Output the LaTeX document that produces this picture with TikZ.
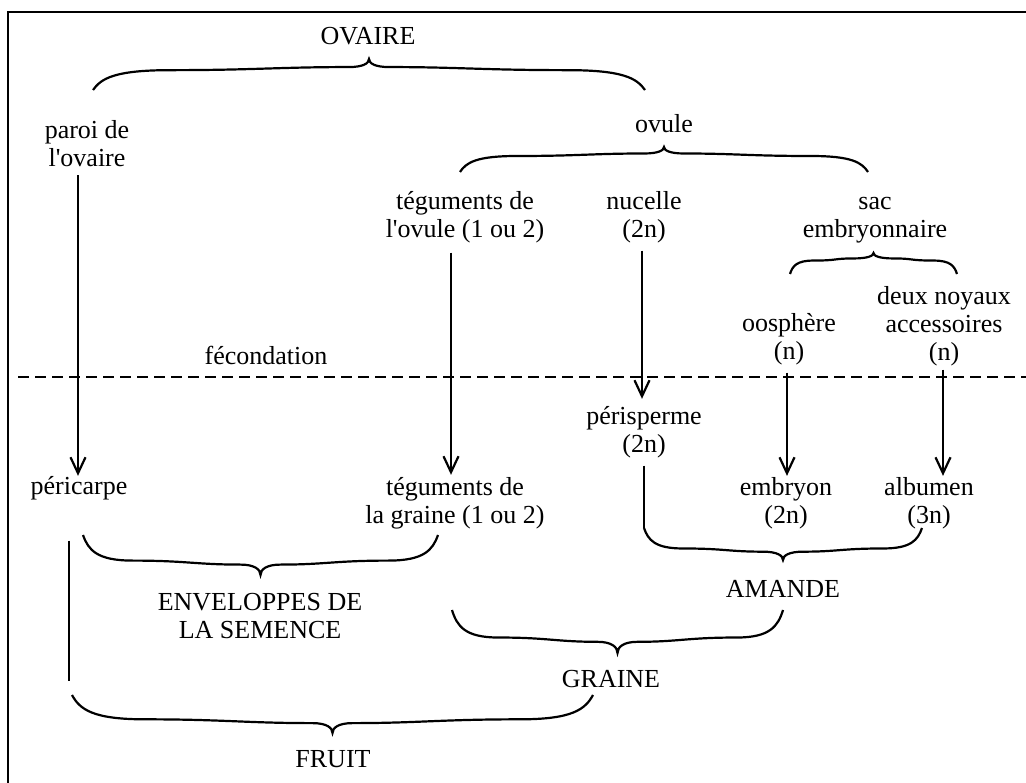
\documentclass[tikz,border=0pt]{standalone}
\usepackage{fontspec}
\setmainfont{Liberation Serif}
\usetikzlibrary{arrows.meta,calc}

\begin{document}
\begin{tikzpicture}[x=1pt,y=-1pt,line width=2.2pt,
    font=\fontsize{26}{28}\selectfont,
    lbl/.style={align=center,inner sep=0pt,anchor=base},
    arr/.style={-{Straight Barb[length=16pt,width=15pt]}},
    brc/.style={to path={let \p1=(\tikztostart), \p2=(\tikztotarget), \n1={(\x2-\x1)/2} in
      .. controls +(0.03*\n1,{0.38*(#1)}) and +(-0.2*\n1,0pt) .. (\x1+0.28*\n1,{\y1+0.64*(#1)})
      .. controls +(0.3*\n1,0pt) and +(-0.25*\n1,0pt) .. (\x1+\n1-20pt,{\y1+0.74*(#1)})
      .. controls +(14pt,0pt) and +(0pt,{-0.14*(#1)}) .. (\x1+\n1,{\y1+(#1)})
      .. controls +(0pt,{-0.14*(#1)}) and +(-14pt,0pt) .. (\x1+\n1+20pt,{\y1+0.74*(#1)})
      .. controls +(0.25*\n1,0pt) and +(-0.3*\n1,0pt) .. (\x2-0.28*\n1,{\y1+0.64*(#1)})
      .. controls +(0.2*\n1,0pt) and +(-0.03*\n1,{0.38*(#1)}) .. (\tikztotarget)}}]
      \useasboundingbox (0,0) rectangle (1026,783);

      % frame and fecondation line
      \coordinate (c1) at (1030,12);
      \coordinate (c2) at (8,12);
      \coordinate (c3) at (8,790);
      \draw[line width=2.6pt] (c1) -- (c2) -- (c3);
      \coordinate (d1) at (18,377);
      \coordinate (d2) at (1030,377);
      \draw[dash pattern=on 11pt off 6pt] (d1) -- (d2);

      % labels (y = baseline of last line)
      \node[lbl] (ov) at (368,45) {OVAIRE};
      \node[lbl] (p) at (87,167) {paroi de\\l\textquotesingle ovaire};
      \node[lbl] (o) at (664,133) {ovule};

      \node[lbl] (t) at (465,238) {téguments de\\l\textquotesingle ovule (1 ou 2)};
      \node[lbl] (n) at (644,238) {nucelle\\(2n)};
      \node[lbl] (s) at (875,238) {sac\\embryonnaire};

      \node[lbl] (dn) at (944,361) {deux noyaux\\accessoires\\(n)};
      \node[lbl] (os) at (789,360) {oosphère\\(n)};
      \node[lbl] (f) at (266,365) {fécondation};

      \node[lbl] (pe) at (644,453) {périsperme\\(2n)};
      \node[lbl] (pc) at (79,495) {péricarpe};
      \node[lbl] (tg) at (455,523) {téguments de\\la graine (1 ou 2)};
      \node[lbl] (e) at (786,523) {embryon\\(2n)};
      \node[lbl] (a) at (929,523) {albumen\\(3n)};

      \node[lbl] (env) at (260,638) {ENVELOPPES DE\\LA SEMENCE};
      \node[lbl] (am) at (783,597) {AMANDE};
      \node[lbl] (gr) at (611,687) {GRAINE};
      \node[lbl] (fr) at (333,767) {FRUIT};

      % braces
      \coordinate (ov1) at (93,90);
      \coordinate (ov2) at (645,90);
      \coordinate (o1) at (460,172);
      \coordinate (o2) at (868,172);
      \coordinate (s1) at (790,274);
      \coordinate (s2) at (957,274);
      \coordinate (env1) at (83,535);
      \coordinate (env2) at (438,535);
      \coordinate (am1) at (644,528);
      \coordinate (am2) at (922,528);
      \coordinate (gr1) at (452,610);
      \coordinate (gr2) at (783,610);
      \coordinate (fr1) at (72,695);
      \coordinate (fr2) at (593,695);

      \draw (ov1) to[brc=31pt] (ov2);
      \draw (o1) to[brc=25pt] (o2);
      \draw (s1) to[brc=21pt] (s2);
      \draw (env1) to[brc=-40pt] (env2);
      \draw (am1) to[brc=-32pt] (am2);
      \draw (gr1) to[brc=-43pt] (gr2);
      \draw (fr1) to[brc=-38pt] (fr2);

      % arrows
      \draw[arr,shorten <=7pt] ([xshift=-9pt]p.south) -- ([xshift=-1pt]pc.north);
      \draw[arr,shorten <=8pt,shorten >=1pt] ([xshift=-14pt]t.south) -- ([xshift=-4pt]tg.north);
      \draw[arr,shorten <=6pt,shorten >=7pt] ([xshift=-2pt]n.south) -- ([xshift=-2pt]pe.north);
      \draw[arr,shorten <=6pt] ([xshift=-2pt]os.south) -- ([xshift=1pt]e.north);
      \draw[arr,shorten <=2pt] ([xshift=-1pt]dn.south) -- ([xshift=14pt]a.north);

      \draw ([xshift=-10pt,yshift=-39pt]pc.south) -- ++(0,140);
      \draw[shorten <=6pt] (pe.south) -- (am1);
    \end{tikzpicture}
\end{document}
